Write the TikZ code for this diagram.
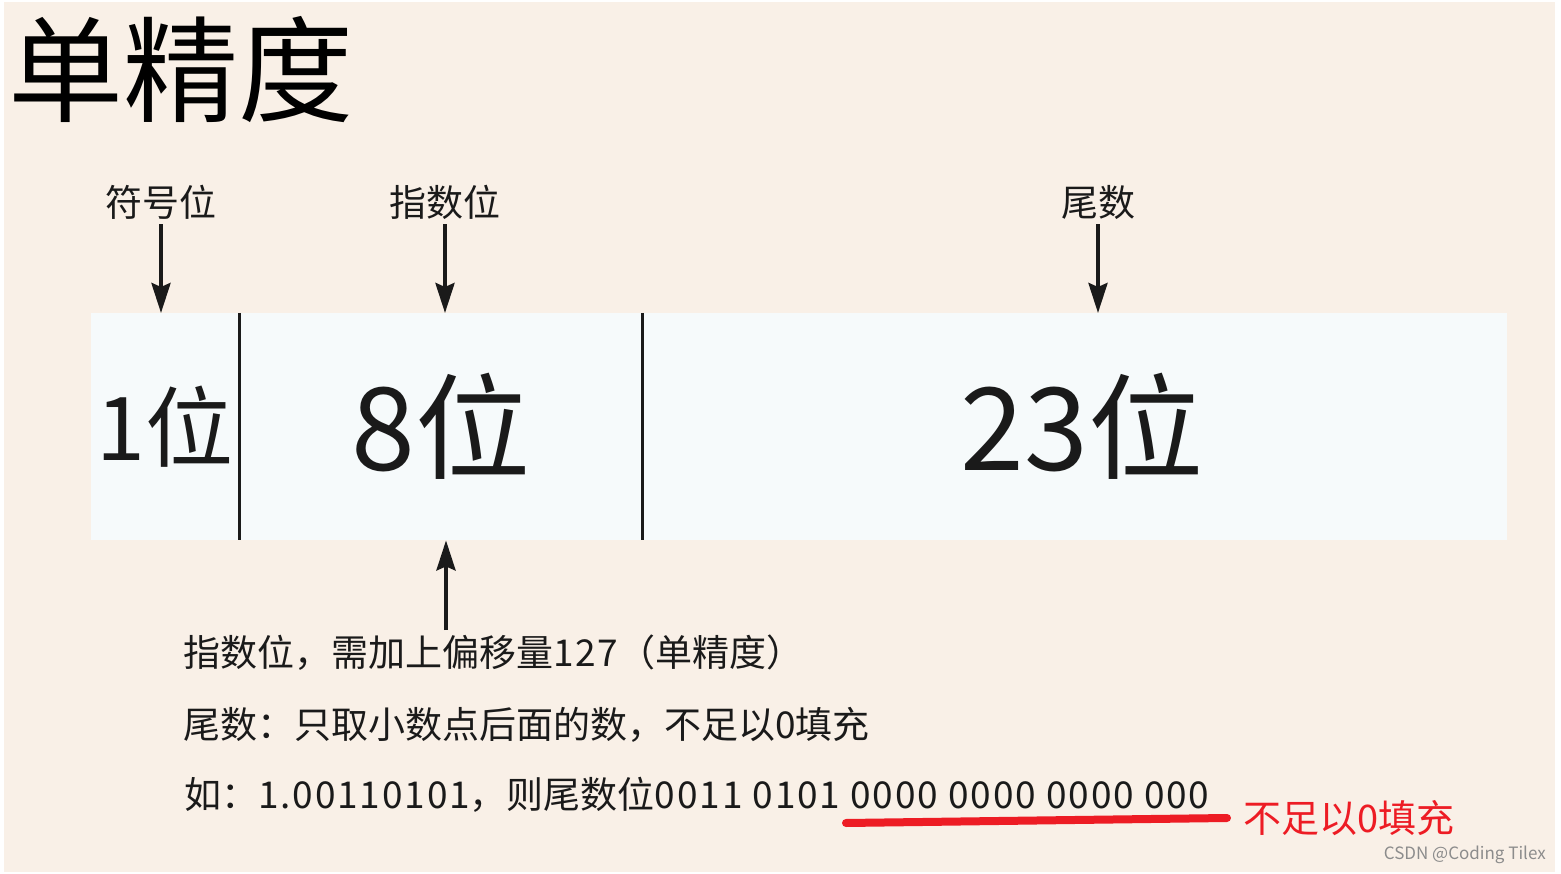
\documentclass[tikz,border=0pt]{standalone}
\usepackage{fontspec}
\setmainfont{Noto Sans CJK SC}
\newfontfamily\widedigits[LetterSpace=5]{Noto Sans CJK SC}
\usetikzlibrary{arrows.meta,positioning}
\definecolor{PaperBeige}{HTML}{F9F0E7}
\definecolor{CellWhite}{HTML}{F6FAFB}
\definecolor{InkBlack}{HTML}{1A1A1A}
\definecolor{MarkRed}{HTML}{ED1C24}
\definecolor{MarkGray}{HTML}{8C8C8C}

\begin{document}
\begin{tikzpicture}[x=1pt,y=-1pt,
  cell/.style={fill=CellWhite,inner sep=0pt,minimum height=227pt,
               anchor=north west,text=InkBlack},
  lbl/.style={font=\fontsize{37}{37}\selectfont,text=InkBlack,inner sep=0pt},
  note/.style={font=\fontsize{37}{37}\selectfont,text=InkBlack,
               inner sep=0pt,anchor=west},
  arr/.style={-{Stealth[length=30pt,width=19pt,inset=4pt]},line width=4pt,InkBlack},
  sep/.style={line width=3pt,InkBlack},
]
\useasboundingbox (0,0) rectangle (1561,874);
\fill[white] (0,0) rectangle (1561,874);
\fill[PaperBeige] (4,2) rectangle (1555,872);
% title
\node[font=\fontsize{115}{115}\selectfont,inner sep=0pt,anchor=west] (title)
  at (8,70) {单精度};
% the three fields
\node[cell,minimum width=148pt,font=\fontsize{88}{88}\selectfont] (sign)
  at (91,313) {1位};
\node[cell,minimum width=403pt,font=\fontsize{115}{115}\selectfont] (expo)
  at (239,313) {8位};
\node[cell,minimum width=865pt,font=\fontsize{115}{115}\selectfont] (mant)
  at (642,313) {\hspace*{14pt}23位};
\draw[sep] (sign.north east) -- (sign.south east);
\draw[sep] (expo.north east) -- (expo.south east);
% labels above
\node[lbl] (signlbl) at (161,202) {符号位};
\node[lbl] (expolbl) at (445,202) {指数位};
\node[lbl] (mantlbl) at (1098,202) {尾数};
\draw[arr,shorten <=5pt] (signlbl.south) -- (signlbl.south |- sign.north);
\draw[arr,shorten <=5pt] (expolbl.south) -- (expolbl.south |- expo.north);
\draw[arr,shorten <=5pt] (mantlbl.south) -- (mantlbl.south |- mant.north);
% notes below
\node[note] (bias) at (183,653) {指数位，需加上偏移量{\widedigits 127}（单精度）};
\node[note] (frac) at (183,725) {尾数：只取小数点后面的数，不足以{\widedigits 0}填充};
\node[note] (demo) at (184,795)
  {如：{\widedigits 1.00110101}，则尾数位{\widedigits 0011 0101 0000 0000 0000 000}};
\coordinate (biasfoot) at (446,630);
\draw[arr] (biasfoot) -- (biasfoot |- expo.south);
\coordinate (padL) at (846,823);
\coordinate (padR) at (1227,818);
\draw[line width=8pt,MarkRed,line cap=round] (padL) -- (padR);
\node[font=\fontsize{38}{38}\selectfont,text=MarkRed,inner sep=0pt,
      right=16pt of padR] (padtxt) {不足以0填充};
\node[font=\fontsize{17}{17}\selectfont,text=MarkGray,inner sep=0pt,anchor=east]
  (mark) at (1546,855) {CSDN @Coding Tilex};
\end{tikzpicture}
\end{document}
